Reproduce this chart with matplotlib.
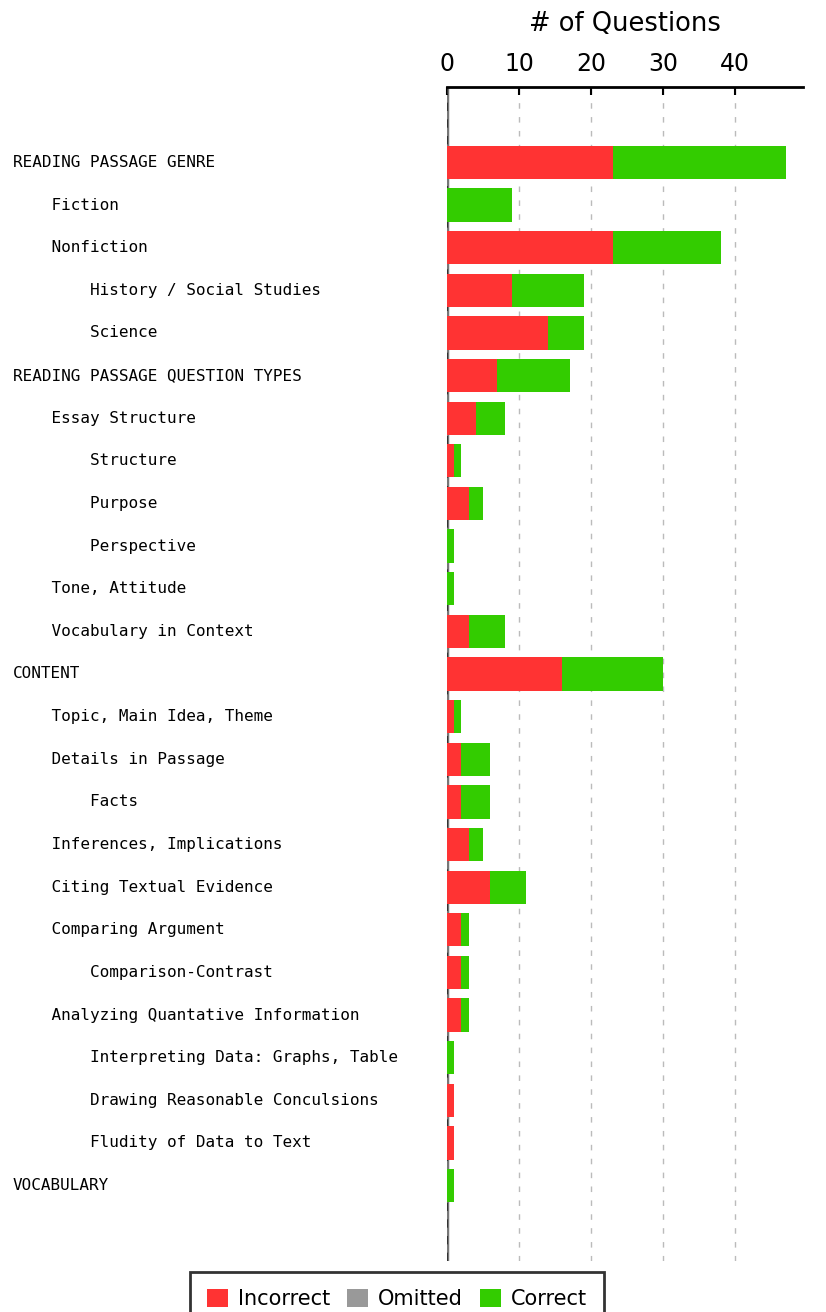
import matplotlib.pyplot as plt
import numpy as np

labels = [
    "READING PASSAGE GENRE",
    "    Fiction",
    "    Nonfiction",
    "        History / Social Studies",
    "        Science",
    "READING PASSAGE QUESTION TYPES",
    "    Essay Structure",
    "        Structure",
    "        Purpose",
    "        Perspective",
    "    Tone, Attitude",
    "    Vocabulary in Context",
    "CONTENT",
    "    Topic, Main Idea, Theme",
    "    Details in Passage",
    "        Facts",
    "    Inferences, Implications",
    "    Citing Textual Evidence",
    "    Comparing Argument",
    "        Comparison-Contrast",
    "    Analyzing Quantative Information",
    "        Interpreting Data: Graphs, Table",
    "        Drawing Reasonable Conculsions",
    "        Fludity of Data to Text",
    "VOCABULARY",
]
incorrect = [23, 0, 23, 9, 14, 7, 4, 1, 3, 0, 0, 3, 16, 1, 2, 2, 3, 6, 2, 2, 2, 0, 1, 1, 0]
omitted = [0] * 25
correct = [24, 9, 15, 10, 5, 10, 4, 1, 2, 1, 1, 5, 14, 1, 4, 4, 2, 5, 1, 1, 1, 1, 0, 0, 1]

W, H = 826, 1312
fig = plt.figure(figsize=(W / 100, H / 100), dpi=100)
ax = fig.add_axes([447 / W, 1 - 1261 / H, (803 - 447) / W, (1261 - 87) / H])

y = np.arange(len(labels))
inc = np.array(incorrect)
om = np.array(omitted)
cor = np.array(correct)
ax.barh(y, inc, height=0.78, color="#ff3333", label="Incorrect", zorder=3)
ax.barh(y, om, left=inc, height=0.78, color="#999999", label="Omitted", zorder=3)
ax.barh(y, cor, left=inc + om, height=0.78, color="#33cc00", label="Correct", zorder=3)

ax.set_xlim(0, 49.4)
ax.set_ylim(len(labels) - 1 + 1.77, -1.77)

ax.xaxis.tick_top()
ax.xaxis.set_label_position("top")
ax.set_xticks([0, 10, 20, 30, 40])
ax.tick_params(axis="x", direction="in", length=6, width=1.5, labelsize=17, pad=8)
ax.set_xlabel("# of Questions", fontsize=18.5, labelpad=15)
ax.set_yticks([])

for s in ["left", "right", "bottom"]:
    ax.spines[s].set_visible(False)
ax.spines["top"].set_linewidth(2)

for xv in [10, 20, 30, 40]:
    ax.axvline(xv, color="#bbbbbb", linestyle=(0, (4, 6)), lw=1, zorder=1)
ax.axvline(0, color="#777777", lw=2.5, zorder=1)
ax.axvline(0, color="#333333", linestyle=(0, (4, 4)), lw=1.5, zorder=2)

trans = ax.get_yaxis_transform().__class__(fig.transFigure, ax.transData)
for yi, lab in zip(y, labels):
    ax.text(13 / W, yi, lab, transform=trans,
            ha="left", va="center", fontsize=11.5, family="DejaVu Sans Mono")

leg = fig.legend(loc="upper center", bbox_to_anchor=(397 / W, 1 - 1272 / H), ncol=3,
                 fontsize=15, frameon=True, fancybox=False, handlelength=1, handleheight=1,
                 handletextpad=0.5, columnspacing=0.8, borderpad=0.8, borderaxespad=0)
leg.get_frame().set_edgecolor("black")
leg.get_frame().set_linewidth(2)

fig.savefig("out.png", dpi=100)
